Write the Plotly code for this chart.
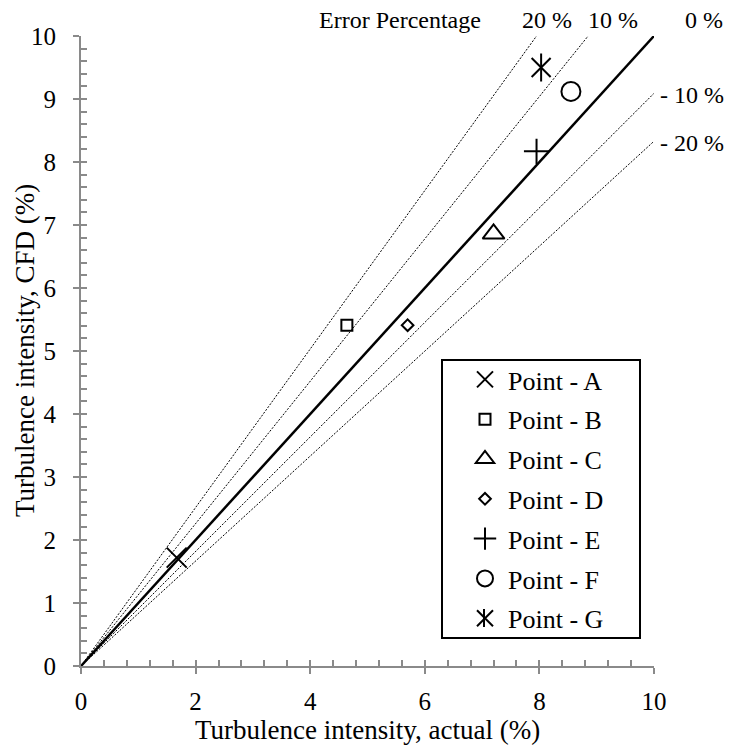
import plotly.graph_objects as go

# ---- data ----
point_names = ["Point - A", "Point - B", "Point - C", "Point - D", "Point - E", "Point - F", "Point - G"]
actual_ti = [1.67, 4.64, 7.20, 5.70, 7.95, 8.55, 8.03]
cfd_ti = [1.72, 5.41, 6.86, 5.41, 8.17, 9.12, 9.50]
symbols = ["x-thin-open", "square-open", "triangle-up-open", "diamond-open", "cross-thin-open", "circle-open", "x-thin-open"]
sizes = [20, 11, 19, 9, 18, 19, 19]

err_labels = ["20 %", "10 %", "0 %", "- 10 %", "- 20 %"]
err_x_end = [7.95, 8.85, 10.0, 10.0, 10.0]
err_y_end = [10.0, 10.0, 10.0, 9.09, 8.33]

x_ticks = [0, 2, 4, 6, 8, 10]
y_ticks = [0, 1, 2, 3, 4, 5, 6, 7, 8, 9, 10]
x_title = "Turbulence intensity, actual (%)"
y_title = "Turbulence intensity, CFD (%)"

FONT = "Liberation Serif"
GRAY = "#8a8a8a"

# plot area in pixels (for paper-coordinate helpers)
L, R, T, B = 81, 654, 36, 666
def px(xp):
    return (xp - L) / (R - L)
def py(yp):
    return (B - yp) / (B - T)

fig = go.Figure()

# error lines
for lab, xe, ye in zip(err_labels, err_x_end, err_y_end):
    solid = lab == "0 %"
    fig.add_trace(go.Scatter(
        x=[0, xe], y=[0, ye], mode="lines", showlegend=False, hoverinfo="skip",
        line=dict(color="black", width=2.5 if solid else 1, dash="solid" if solid else "2px,1.5px"),
    ))

# points
for n, xv, yv, s, sz in zip(point_names, actual_ti, cfd_ti, symbols, sizes):
    fig.add_trace(go.Scatter(
        x=[xv], y=[yv], mode="markers", name=n, legendgroup=n,
        marker=dict(symbol=s, size=sz, color="black", line=dict(color="black", width=2)),
    ))
# vertical stroke of the G asterisk
fig.add_trace(go.Scatter(
    x=[actual_ti[6]], y=[cfd_ti[6]], mode="markers", showlegend=False, hoverinfo="skip",
    marker=dict(symbol="line-ns-open", size=20, color="black", line=dict(color="black", width=2)),
))

# dummy trace for inside-tick overlay axes
fig.add_trace(go.Scatter(x=[None], y=[None], xaxis="x2", yaxis="y2", showlegend=False, hoverinfo="skip"))

# annotations
ann_pos = {"Error Percentage": (400, 20), "20 %": (547, 20), "10 %": (613, 20), "0 %": (704, 20),
           "- 10 %": (692, 95), "- 20 %": (692, 143)}
for lab in ["Error Percentage"] + err_labels:
    ax, ay = ann_pos[lab]
    fig.add_annotation(x=px(ax), y=py(ay), xref="paper", yref="paper", text=lab, showarrow=False,
                       xanchor="center", yanchor="middle",
                       font=dict(family=FONT, size=24, color="black"))

# axis titles
fig.add_annotation(x=px(367), y=py(730), xref="paper", yref="paper", text=x_title, showarrow=False,
                   xanchor="center", yanchor="middle", font=dict(family=FONT, size=27, color="black"))
fig.add_annotation(x=px(25), y=py(351), xref="paper", yref="paper", text=y_title, showarrow=False,
                   textangle=-90, xanchor="center", yanchor="middle",
                   font=dict(family=FONT, size=27, color="black"))

# legend box
fig.add_shape(type="rect", xref="paper", yref="paper",
              x0=px(442), x1=px(640), y0=py(638), y1=py(360),
              line=dict(color="black", width=2), fillcolor="white", layer="below")
# vertical stroke for legend G symbol
fig.add_shape(type="line", xref="paper", yref="paper",
              x0=px(484), x1=px(484), y0=py(627), y1=py(609),
              line=dict(color="black", width=2), layer="above")

fig.update_layout(
    width=730, height=746,
    margin=dict(l=L, r=730 - R, t=T, b=746 - B, autoexpand=False),
    paper_bgcolor="white", plot_bgcolor="white",
    font=dict(family=FONT, size=25, color="black"),
    showlegend=True,
    legend=dict(x=px(462), y=py(356), xanchor="left", yanchor="top", itemwidth=36,
                bgcolor="rgba(0,0,0,0)", borderwidth=0, tracegroupgap=3,
                font=dict(family=FONT, size=26, color="black")),
    xaxis=dict(range=[0, 10], tickvals=x_ticks, ticks="outside", ticklen=6, tickwidth=2, tickcolor=GRAY,
               showline=True, linecolor=GRAY, linewidth=2, showgrid=False, zeroline=False, automargin=False,
               tickfont=dict(family=FONT, size=25), ticklabelstandoff=6),
    yaxis=dict(range=[0, 10], tickvals=y_ticks, ticks="outside", ticklen=6, tickwidth=2, tickcolor=GRAY,
               showline=True, linecolor=GRAY, linewidth=2, showgrid=False, zeroline=False, automargin=False,
               tickfont=dict(family=FONT, size=25), ticklabelstandoff=12),
    xaxis2=dict(range=[0, 10], overlaying="x", anchor="y", side="bottom", dtick=0.4, tick0=0,
                ticks="inside", ticklen=6, tickwidth=2, tickcolor=GRAY, showticklabels=False,
                showline=False, showgrid=False, zeroline=False, automargin=False),
    yaxis2=dict(range=[0, 10], overlaying="y", anchor="x", side="left", dtick=0.2, tick0=0,
                ticks="inside", ticklen=6, tickwidth=2, tickcolor=GRAY, showticklabels=False,
                showline=False, showgrid=False, zeroline=False, automargin=False),
)

fig.write_html("out.html")
